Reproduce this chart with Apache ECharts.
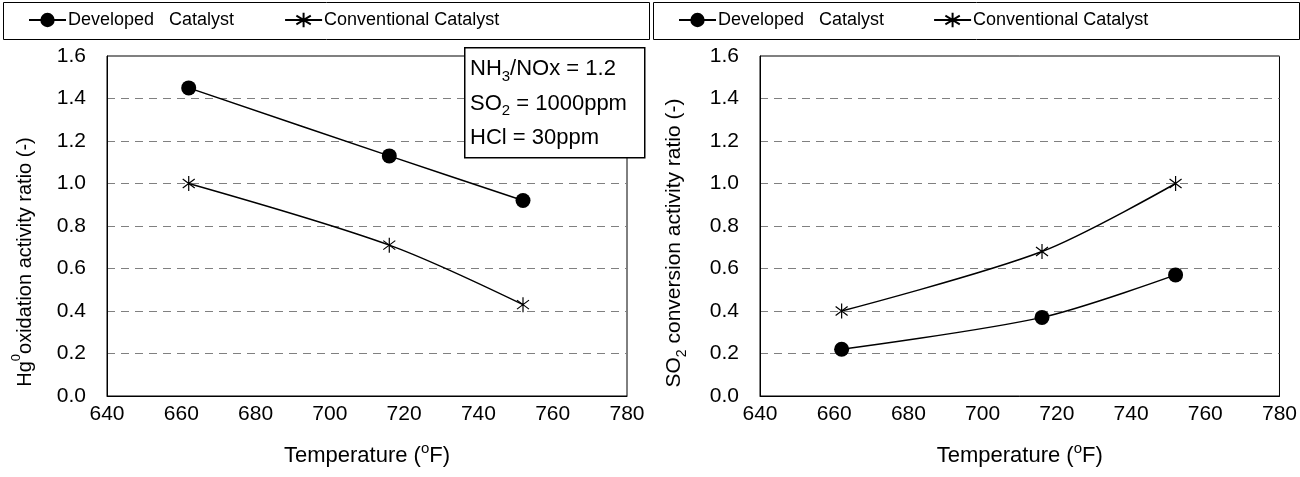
<!DOCTYPE html>
<html><head><meta charset="utf-8">
<script src="https://cdn.jsdelivr.net/npm/echarts@6/dist/echarts.min.js"></script>
<style>html,body{margin:0;padding:0;background:#fff}#c{width:1300px;height:477px}</style>
</head><body><div id="c"></div>
<script>
const temps = [662, 716, 752];
const hgDeveloped = [1.45, 1.13, 0.92];
const hgConventional = [1.00, 0.71, 0.43];
const so2Developed = [0.22, 0.37, 0.57];
const so2Conventional = [0.40, 0.68, 1.00];
const xTicks = {min: 640, max: 780, interval: 20};
const yTicks = {min: 0, max: 1.6, interval: 0.2};
const nameDev = 'Developed   Catalyst';
const nameConv = 'Conventional Catalyst';
const notes = ['{a|NH}{s|3}{a|/NOx = 1.2}', '{a|SO}{s|2}{a| = 1000ppm}', '{a|HCl = 30ppm}'];

const FONT = '"Liberation Sans", Arial, sans-serif';
const starPath = 'path://M0,-10L0,10M-8,-6L8,6M-8,6L8,-6';
const pair = (xs, ys) => xs.map((x, i) => [x, ys[i]]);

const chart = echarts.init(document.getElementById('c'), null, {renderer: 'canvas'});
function rich(fs) {
  const small = Math.round(fs * 0.66);
  return {
    a: {fontSize: fs, fontFamily: FONT, color: '#000', lineHeight: 22, verticalAlign: 'middle'},
    s: {fontSize: small, fontFamily: FONT, color: '#000', lineHeight: 30, verticalAlign: 'bottom'},
    u: {fontSize: small, fontFamily: FONT, color: '#000', lineHeight: 30, verticalAlign: 'top'}
  };
}
function xAxis(i) {
  return {
    type: 'value', gridIndex: i, min: xTicks.min, max: xTicks.max, interval: xTicks.interval,
    name: '{a|Temperature (}{u|o}{a|F)}', nameLocation: 'middle', nameGap: 45,
    nameTextStyle: {rich: rich(22)},
    axisLine: {lineStyle: {color: '#000', width: 1}}, axisTick: {show: false},
    axisLabel: {fontSize: 21, fontFamily: FONT, color: '#000', margin: 8},
    splitLine: {show: false}
  };
}
function yAxis(i, name, gap, shift, fs) {
  return {
    type: 'value', gridIndex: i, min: yTicks.min, max: yTicks.max, interval: yTicks.interval,
    name: name, nameLocation: 'middle', nameGap: gap,
    nameTextStyle: {rich: rich(fs), padding: [0, shift * 2, 0, 0]},
    axisLine: {show: true, lineStyle: {color: '#000', width: 1}}, axisTick: {show: false},
    axisLabel: {fontSize: 21, fontFamily: FONT, color: '#000', margin: 21, formatter: v => v.toFixed(1)},
    splitLine: {show: true, lineStyle: {color: '#808080', type: [8, 6], width: 1}}
  };
}
function series(name, i, xs, ys, star) {
  return {
    name: name, type: 'line', xAxisIndex: i, yAxisIndex: i, data: pair(xs, ys),
    smooth: 0.3, symbol: star ? starPath : 'circle', symbolSize: 15,
    symbolKeepAspect: true,
    lineStyle: {color: '#000', width: 1.5},
    itemStyle: {color: '#000', borderColor: '#000', borderWidth: star ? 1.2 : 0},
    z: 3
  };
}
function legend(left, gap) {
  return {
    left: left, top: 0, height: 38, itemWidth: 37, itemHeight: 18, itemGap: gap,
    padding: [11, 5],
    textStyle: {fontSize: 18, fontFamily: FONT, color: '#000', padding: [0, 0, 0, -3]},
    data: [nameDev, nameConv], selectedMode: false
  };
}
const noteText = notes.map((t, k) => ({
  type: 'text', x: 470, y: 69 + k * 34.5, z: 101,
  style: {text: t, rich: rich(22), verticalAlign: 'middle', align: 'left'}
}));

chart.setOption({
  animation: false,
  backgroundColor: '#fff',
  grid: [
    {left: 107, top: 56, width: 520, height: 340, show: true, borderColor: '#000', borderWidth: 1},
    {left: 760, top: 56, width: 520, height: 340, show: true, borderColor: '#000', borderWidth: 1}
  ],
  legend: [legend(23, 50), legend(673, 49)],
  xAxis: [xAxis(0), xAxis(1)],
  yAxis: [
    yAxis(0, '{a|Hg}{u|0}{a|oxidation activity ratio (-)}', 67, 36, 20),
    yAxis(1, '{a|SO}{s|2}{a| conversion activity ratio (-)}', 71, 17, 21)
  ],
  series: [
    series(nameDev, 0, temps, hgDeveloped, false),
    series(nameConv, 0, temps, hgConventional, true),
    series(nameDev, 1, temps, so2Developed, false),
    series(nameConv, 1, temps, so2Conventional, true)
  ],
  graphic: [
    {type: 'rect', left: 1, top: 0, z: 0, shape: {width: 646, height: 37}, style: {fill: 'none', stroke: '#000', lineWidth: 1}},
    {type: 'rect', left: 651, top: 0, z: 0, shape: {width: 646, height: 37}, style: {fill: 'none', stroke: '#000', lineWidth: 1}},
    {type: 'rect', left: 464, top: 47, z: 100, shape: {width: 180, height: 110}, style: {fill: '#fff', stroke: '#000', lineWidth: 1.5}},
    ...noteText
  ]
});
</script></body></html>
